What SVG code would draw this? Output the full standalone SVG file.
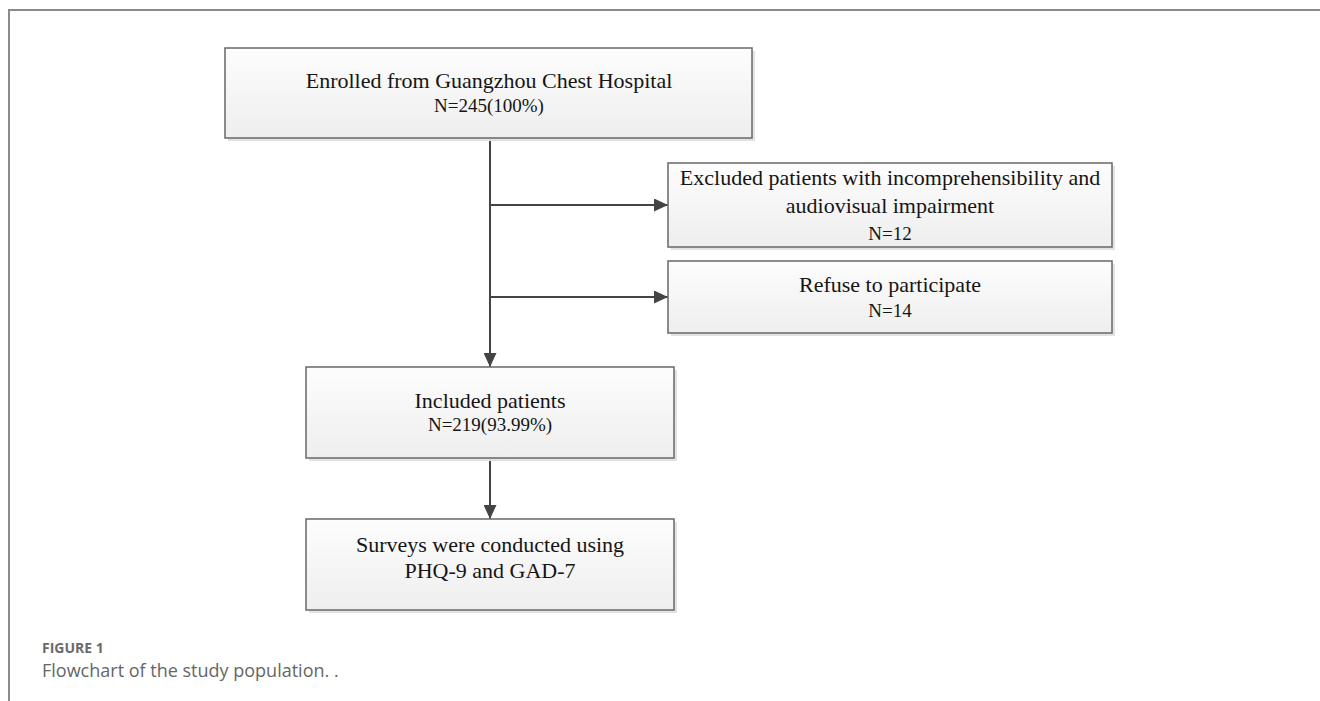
<svg xmlns="http://www.w3.org/2000/svg" width="1320" height="701" viewBox="0 0 1320 701">
<style>
.box{stroke:#707070;stroke-width:1.6;fill:url(#g)}
.sh{fill:#e2e2e2}
.t{font-family:"Liberation Serif","Times New Roman",serif;font-size:22px;fill:#151515;text-anchor:middle}
.n{font-family:"Liberation Serif","Times New Roman",serif;font-size:19px;fill:#151515;text-anchor:middle}
.c{stroke:#444;stroke-width:2;fill:none}
.frame{stroke:#8a8a8a;stroke-width:2;fill:none}
.cap1{font-family:"Open Sans","Liberation Sans",sans-serif;font-size:14px;font-weight:bold;fill:#6a6a6a}
.cap2{font-family:"Open Sans","Liberation Sans",sans-serif;font-size:18px;fill:#666}
</style>
<defs>
<linearGradient id="g" x1="0" y1="0" x2="0" y2="1">
<stop offset="0" stop-color="#fdfdfd"/>
<stop offset="1" stop-color="#eeeeee"/>
</linearGradient>
<marker id="ah" markerWidth="14" markerHeight="13" refX="14" refY="6.5" orient="auto" markerUnits="userSpaceOnUse">
<path d="M0,0 L14,6.5 L0,13 Z" fill="#444"/>
</marker>
</defs>
<rect width="1320" height="701" fill="#fff"/>
<path class="frame" d="M9,701 V10 H1320"/>
<g id="connectors">
<path class="c" d="M490,138 V367" marker-end="url(#ah)"/>
<path class="c" d="M490,205 H668" marker-end="url(#ah)"/>
<path class="c" d="M490,297 H668" marker-end="url(#ah)"/>
<path class="c" d="M490,458 V519" marker-end="url(#ah)"/>
</g>
<g id="enrolled">
<rect class="sh" x="228" y="51" width="527" height="90"/>
<rect class="box" x="225" y="48" width="527" height="90"/>
<text class="t" x="489" y="88">Enrolled from Guangzhou Chest Hospital</text>
<text class="n" x="489" y="112">N=245(100%)</text>
</g>
<g id="excluded">
<rect class="sh" x="671" y="166" width="444" height="84"/>
<rect class="box" x="668" y="163" width="444" height="84"/>
<text class="t" x="890" y="185">Excluded patients with incomprehensibility and</text>
<text class="t" x="890" y="213">audiovisual impairment</text>
<text class="n" x="890" y="240">N=12</text>
</g>
<g id="refuse">
<rect class="sh" x="671" y="264" width="444" height="72"/>
<rect class="box" x="668" y="261" width="444" height="72"/>
<text class="t" x="890" y="292">Refuse to participate</text>
<text class="n" x="890" y="317">N=14</text>
</g>
<g id="included">
<rect class="sh" x="309" y="370" width="368" height="91"/>
<rect class="box" x="306" y="367" width="368" height="91"/>
<text class="t" x="490" y="408">Included patients</text>
<text class="n" x="490" y="431">N=219(93.99%)</text>
</g>
<g id="surveys">
<rect class="sh" x="309" y="522" width="368" height="91"/>
<rect class="box" x="306" y="519" width="368" height="91"/>
<text class="t" x="490" y="552">Surveys were conducted using</text>
<text class="t" x="490" y="578">PHQ-9 and GAD-7</text>
</g>
<text class="cap1" x="42" y="653">FIGURE 1</text>
<text class="cap2" x="42" y="677">Flowchart of the study population. .</text>
</svg>
